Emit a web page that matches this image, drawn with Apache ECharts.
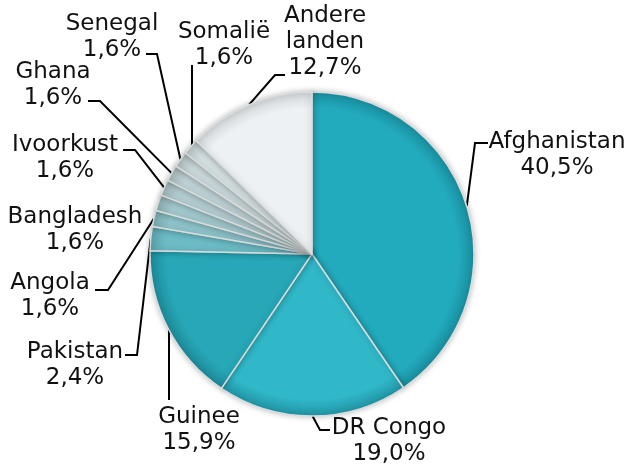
<!DOCTYPE html>
<html>
<head>
<meta charset="utf-8">
<script src="https://cdn.jsdelivr.net/npm/echarts@6/dist/echarts.min.js"></script>
<style>
html, body { margin: 0; padding: 0; background: #fff; }
#chart { width: 632px; height: 467px; }
</style>
</head>
<body>
<div id="chart"></div>
<script>
// landen en aandelen (%), met de klok mee vanaf 12 uur
const countries = ['Afghanistan', 'DR Congo', 'Guinee', 'Pakistan', 'Angola', 'Bangladesh',
  'Ivoorkust', 'Ghana', 'Senegal', 'Somalië', 'Andere\nlanden']
const shares = [40.5, 19.0, 15.9, 2.4, 1.6, 1.6, 1.6, 1.6, 1.6, 1.6, 12.7]
const sliceColors = ['#22abbd', '#30b7c8', '#27a7b7', '#6cbcc6', '#8ec4cb', '#a2c9ce',
  '#b3cdd1', '#bfd2d5', '#c9d8da', '#d4dfe1', '#eef1f3']
const rimColors = ['#1a8fa0', '#2196a6', '#1d8a99', '#5aa2ab', '#7aa9b0', '#8cadb1',
  '#9bb1b4', '#a6b6b9', '#afbcbe', '#b9c3c5', '#cfd4d6']

// label block centres
const labelPos = [
  [557, 155], [389, 441], [199, 430], [75, 365], [50, 296], [75, 230],
  [65, 158], [53, 85], [112, 37], [224, 45], [325, 42]
]
// leader line: elbow and end (null = no line)
const linePath = [
  [[475, 143], [488, 143]],
  [[320, 430], [330, 430]],
  [null, [169, 400]],
  [[137, 355], [125, 355]],
  [[108, 290], [95, 290]],
  null,
  [[135, 150], [123, 150]],
  [[100, 101], [88, 101]],
  [[157, 54], [146, 54]],
  [null, [192, 65]],
  [[275, 75], [285, 75]]
]

const cx = 312, cy = 254, r = 162

const chart = echarts.init(document.getElementById('chart'))
chart.setOption({
  animation: false,
  series: [{
    type: 'pie',
    center: [cx, cy],
    radius: [0, r],
    startAngle: 90,
    clockwise: true,
    data: countries.map((c, i) => ({
      name: c,
      value: shares[i],
      itemStyle: {
        color: new echarts.graphic.RadialGradient(cx, cy, r, [
          { offset: 0, color: sliceColors[i] },
          { offset: 0.9, color: sliceColors[i] },
          { offset: 1, color: rimColors[i] }
        ], true)
      },
      labelLine: { show: linePath[i] !== null }
    })),
    itemStyle: {
      borderColor: '#d8dcdd',
      borderWidth: 1.5,
      shadowBlur: 6,
      shadowColor: 'rgba(0,0,0,0.25)'
    },
    label: {
      formatter: p => p.name + '\n' + p.value.toFixed(1).replace('.', ',') + '%',
      fontFamily: 'DejaVu Sans',
      fontSize: 23,
      lineHeight: 26,
      color: '#111',
      align: 'center',
      overflow: 'none'
    },
    labelLine: {
      show: true,
      lineStyle: { color: '#000', width: 2 }
    },
    labelLayout: function (params) {
      const i = params.dataIndex
      const p = labelPos[i]
      const out = { x: p[0], y: p[1], align: 'center', verticalAlign: 'middle' }
      const lp = linePath[i]
      if (lp && params.labelLinePoints) {
        const a = params.labelLinePoints[0]
        const elbow = lp[0] || [lp[1][0], a[1]]
        out.labelLinePoints = [a, elbow, lp[1]]
      }
      return out
    }
  }]
})
</script>
</body>
</html>
